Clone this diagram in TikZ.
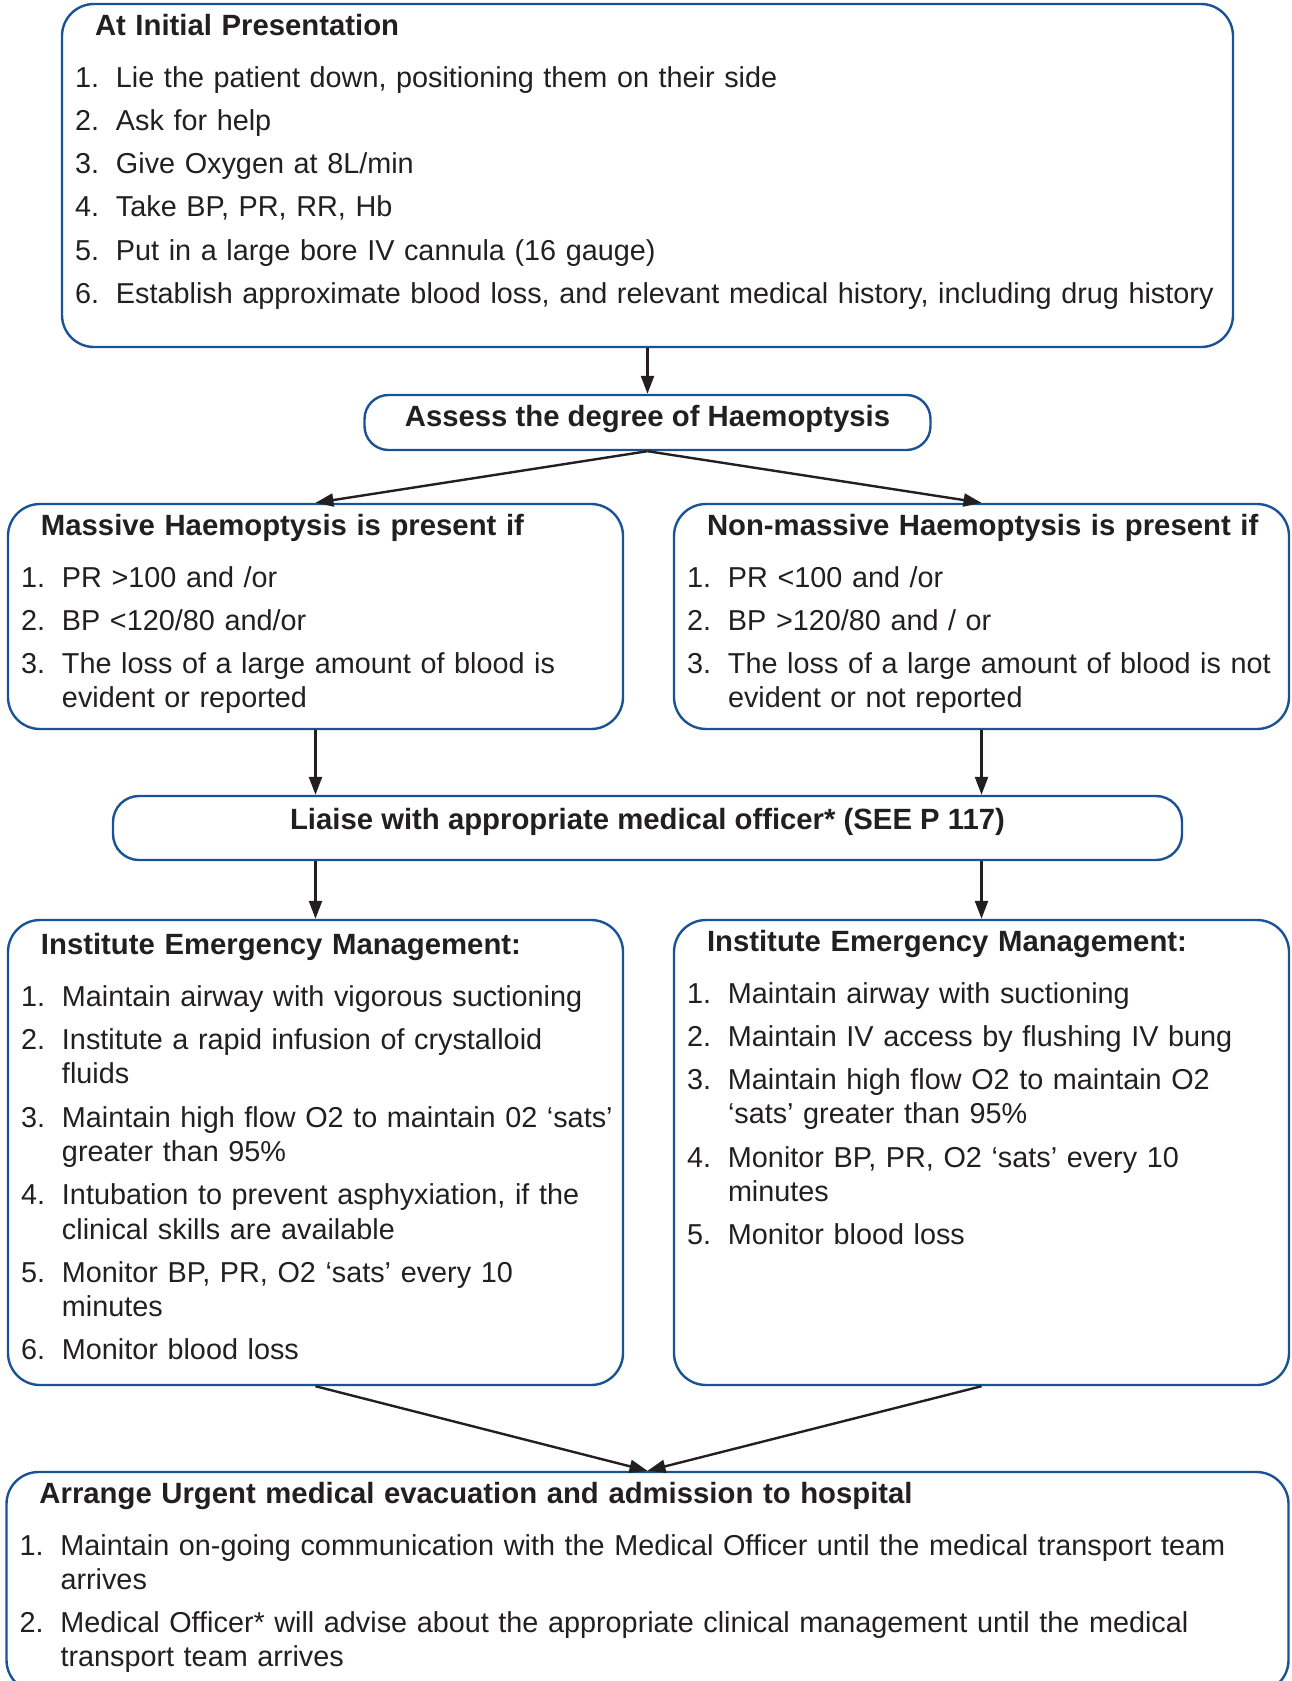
\documentclass[tikz,border=0pt]{standalone}
\usepackage{fontspec}
\setmainfont{Liberation Sans}
\usetikzlibrary{arrows.meta,positioning}

\definecolor{boxblue}{HTML}{1A5296}
\definecolor{inkgray}{HTML}{231F20}

\newcommand{\boxtitle}[1]{\leftskip=6.5pt\noindent\hspace*{10pt}{\bfseries\fontsize{14.65pt}{17.15pt}\selectfont #1}\par\vskip4.35pt}
\newcommand{\listitem}[2]{\par\vskip4.5pt\leftskip=6.5pt\hyphenpenalty=10000\hangindent=20.5pt\hangafter=1\noindent\makebox[20.5pt][l]{#1.}#2\par}

\tikzstyle{lbox} = [draw=boxblue,line width=1.2pt,rounded corners=16pt,align=left,inner xsep=0pt,inner ysep=0pt,text height=15.5pt,text=inkgray,font=\fontsize{14.4pt}{17.15pt}\selectfont]
\tikzstyle{pill} = [draw=boxblue,line width=1.2pt,rounded corners=12pt,inner sep=0pt,text=inkgray,font=\bfseries\fontsize{14.65pt}{17.15pt}\selectfont]
\tikzstyle{arr}  = [draw=inkgray,line width=1.2pt,-{Triangle[length=9pt,width=6.5pt]}]

\begin{document}
\begin{tikzpicture}
			\useasboundingbox (0,0) rectangle (645.5pt,-840.5pt);
			\node [lbox,text width=585.5pt,text depth=156pt] (init) at (323.75pt,-87.75pt){
				\boxtitle{At Initial Presentation}
				\listitem{1}{Lie the patient down, positioning them on their side}
				\listitem{2}{Ask for help}
				\listitem{3}{Give Oxygen at 8L/min}
				\listitem{4}{Take BP, PR, RR, Hb}
				\listitem{5}{Put in a large bore IV cannula (16 gauge)}
				\listitem{6}{Establish approximate blood loss, and relevant medical history, including drug history}};
			\node [pill,minimum width=283pt,text height=15.8pt,text depth=11.7pt,below of=init,node distance=123.5pt](assess){Assess the degree of Haemoptysis};
			
			\node [lbox,text width=307.5pt,text depth=97pt,below of=assess,node distance=97pt,xshift=-166pt](massive){
				\boxtitle{Massive Haemoptysis is present if}
				\listitem{1}{PR >100 and /or}
				\listitem{2}{BP <120/80 and/or}
				\listitem{3}{The loss of a large amount of blood is\newline evident or reported}};
			\node [lbox,text width=307.5pt,text depth=97pt,right of=massive,node distance=333pt](nonmass){
				\boxtitle{Non-massive Haemoptysis is present if}
				\listitem{1}{PR <100 and /or}
				\listitem{2}{BP >120/80 and / or}
				\listitem{3}{The loss of a large amount of blood is not\newline evident or not reported}};
			
			\node [pill,minimum width=534.5pt,text height=16.85pt,text depth=15.15pt,rounded corners=13pt,below of=assess,node distance=202.75pt](liaise){Liaise with appropriate medical officer* (SEE P 117)};
			
			\node [lbox,text width=307.5pt,text height=17.1pt,text depth=215.4pt,below of=massive,node distance=268pt](emerL){
				\boxtitle{Institute Emergency Management:}
				\listitem{1}{Maintain airway with vigorous suctioning}
				\listitem{2}{Institute a rapid infusion of crystalloid\newline fluids}
				\listitem{3}{Maintain high flow O2 to maintain 02 ‘sats’\newline greater than 95\%}
				\listitem{4}{Intubation to prevent asphyxiation, if the\newline clinical skills are available}
				\listitem{5}{Monitor BP, PR, O2 ‘sats’ every 10\newline minutes}
				\listitem{6}{Monitor blood loss}};
			\node [lbox,text width=307.5pt,text depth=217pt,right of=emerL,node distance=333pt](emerR){
				\boxtitle{Institute Emergency Management:}
				\listitem{1}{Maintain airway with suctioning}
				\listitem{2}{Maintain IV access by flushing IV bung}
				\listitem{3}{Maintain high flow O2 to maintain O2\newline ‘sats’ greater than 95\%}
				\listitem{4}{Monitor BP, PR, O2 ‘sats’ every 10\newline minutes}
				\listitem{5}{Monitor blood loss}};
			
			\node [lbox,text width=641pt,text depth=94.5pt,below of=liaise,node distance=377pt](arrange){
				\boxtitle{Arrange Urgent medical evacuation and admission to hospital}
				\listitem{1}{Maintain on-going communication with the Medical Officer until the medical transport team\newline arrives}
				\listitem{2}{Medical Officer* will advise about the appropriate clinical management until the medical\newline transport team arrives}};
			
			% connectors
			\draw [arr] (init.south) -- (assess.north);
			\draw [arr] (assess.south) -- (massive.north);
			\draw [arr] (assess.south) -- (nonmass.north);
			\draw [arr] (massive.south) -- (massive.south |- liaise.north);
			\draw [arr] (nonmass.south) -- (nonmass.south |- liaise.north);
			\draw [arr] (liaise.south -| emerL.north) -- (emerL.north);
			\draw [arr] (liaise.south -| emerR.north) -- (emerR.north);
			\draw [arr] (emerL.south) -- (arrange.north);
			\draw [arr] (emerR.south) -- (arrange.north);
\end{tikzpicture}
\end{document}
